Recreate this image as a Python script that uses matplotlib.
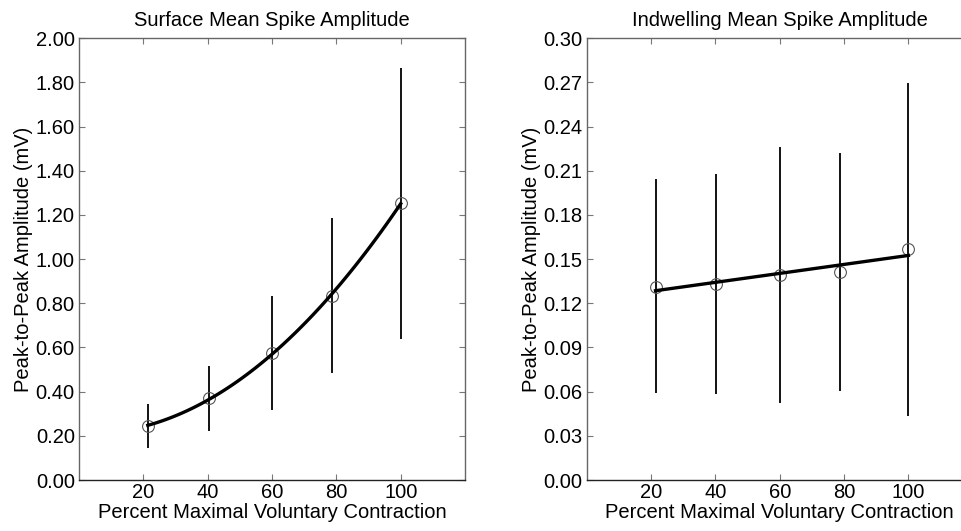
import matplotlib.pyplot as plt
import numpy as np

plt.rcParams['font.family'] = ['Liberation Sans', 'DejaVu Sans']

# ---- data ----
mvc_surf = [21.4, 40.3, 60.0, 78.7, 100.0]
surf_mean = [0.244, 0.370, 0.573, 0.834, 1.255]
surf_top = [0.344, 0.517, 0.833, 1.184, 1.866]
surf_bot = [0.146, 0.223, 0.317, 0.483, 0.638]

mvc_ind = [21.4, 40.3, 60.0, 78.7, 100.0]
ind_mean = [0.1312, 0.1331, 0.1394, 0.1414, 0.1566]
ind_top = [0.2041, 0.2077, 0.2263, 0.2222, 0.2697]
ind_bot = [0.0589, 0.0582, 0.0521, 0.0604, 0.0434]

xticks = [20, 40, 60, 80, 100]
surf_yticks = np.arange(0, 2.01, 0.2)
ind_yticks = np.arange(0, 0.301, 0.03)

fig = plt.figure(figsize=(9.61, 5.31), dpi=100)
ax1 = fig.add_axes([0.0822, 0.096, 0.4017, 0.832])
ax2 = fig.add_axes([0.6105, 0.096, 0.4017, 0.832])


def draw_panel(ax, x, mean, top, bot, deg, title, yticks, ylim):
    x = np.array(x)
    mean = np.array(mean)
    ax.vlines(x, bot, top, color='black', lw=1.3, zorder=2)
    ax.plot(x, mean, 'o', mfc='none', mec='#555555', mew=0.8, ms=8.5, zorder=3)
    # trend line fitted to the means (polynomial, degree 2 or 1)
    xs = np.linspace(x.min(), x.max(), 100)
    ys = np.polyval(np.polyfit(x, mean, deg), xs)
    ax.plot(xs, ys, color='black', lw=2.4, zorder=4)
    ax.set_xlim(0, 120)
    ax.set_ylim(*ylim)
    ax.set_xticks(xticks)
    ax.set_yticks(yticks)
    ax.set_yticklabels(['%.2f' % v for v in yticks])
    ax.tick_params(direction='in', top=True, right=True, length=4,
                   color='#777777', labelsize=14.5)
    ax.tick_params(axis='x', pad=2)
    ax.tick_params(axis='y', pad=3)
    for s in ax.spines.values():
        s.set_color('#666666')
        s.set_linewidth(1.0)
    ax.spines['bottom'].set_color('#222222')
    ax.set_title(title, fontsize=14.5, pad=9)
    ax.set_xlabel('Percent Maximal Voluntary Contraction', fontsize=14.5, labelpad=1)
    ax.set_ylabel('Peak-to-Peak Amplitude (mV)', fontsize=14.5, labelpad=2)


draw_panel(ax1, mvc_surf, surf_mean, surf_top, surf_bot, 2,
           'Surface Mean Spike Amplitude', surf_yticks, (0, 2.0))
draw_panel(ax2, mvc_ind, ind_mean, ind_top, ind_bot, 1,
           'Indwelling Mean Spike Amplitude', ind_yticks, (0, 0.30))

fig.savefig('out.png', dpi=100)
